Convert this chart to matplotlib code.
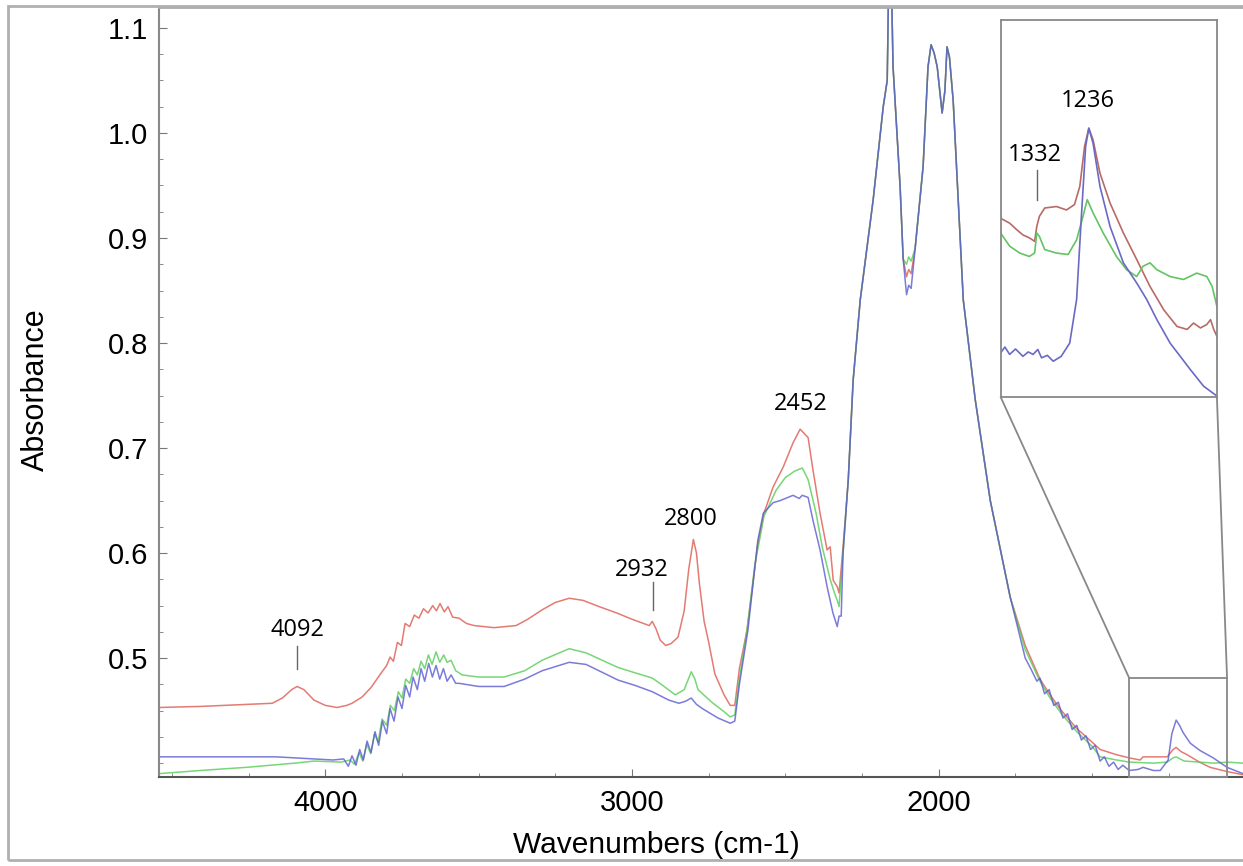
import matplotlib.pyplot as plt
from matplotlib.patches import Rectangle, ConnectionPatch
from matplotlib.ticker import MultipleLocator

plt.rcParams['font.family'] = ['Liberation Sans', 'DejaVu Sans']

RED = '#dc5a50'
GREEN = '#55cc55'
BLUE = '#5a5ad0'

# ---- shared diamond band region (all three spectra overlap) ----
rise_wn = [2295, 2279, 2256, 2214, 2181, 2168, 2162, 2156, 2149, 2126, 2116]
rise_abs = [0.670, 0.765, 0.841, 0.936, 1.025, 1.050, 1.170, 1.170, 1.063, 0.949, 0.880]
dip_wn = [2105, 2098, 2090]
doublet_wn = [2077, 2051, 2035, 2025, 2015, 2005, 1989, 1980, 1973, 1965, 1953, 1920, 1881, 1832, 1767]
doublet_abs = [0.890, 0.968, 1.063, 1.084, 1.076, 1.063, 1.019, 1.040, 1.082, 1.072, 1.031, 0.841, 0.746, 0.650, 0.558]

# ---- red spectrum ----
red_left_wn = [4542, 4408, 4250, 4173, 4140, 4110, 4092, 4070, 4037, 4000, 3962, 3930, 3913, 3880, 3851,
               3820, 3800, 3789, 3778, 3765, 3752, 3740, 3725, 3710, 3695, 3680, 3665, 3650, 3638, 3626,
               3612, 3600, 3585, 3564, 3540, 3515, 3450, 3378, 3340, 3293, 3250, 3205, 3160, 3107, 3050,
               3000, 2944, 2934, 2922, 2908, 2890, 2872, 2850, 2830, 2815, 2800, 2790, 2780, 2765, 2750,
               2730, 2700, 2680, 2665, 2650, 2625, 2600, 2592, 2570, 2540, 2507, 2475, 2452, 2426, 2410,
               2387, 2364, 2354, 2344, 2331, 2325, 2312]
red_left_abs = [0.453, 0.454, 0.456, 0.457, 0.462, 0.470, 0.473, 0.470, 0.460, 0.455, 0.453, 0.455, 0.457, 0.463, 0.472,
                0.485, 0.493, 0.501, 0.497, 0.515, 0.512, 0.533, 0.530, 0.541, 0.538, 0.547, 0.543, 0.550, 0.545, 0.552,
                0.544, 0.549, 0.539, 0.538, 0.533, 0.531, 0.529, 0.531, 0.537, 0.546, 0.553, 0.557, 0.555, 0.549, 0.543,
                0.537, 0.531, 0.535, 0.528, 0.517, 0.512, 0.514, 0.520, 0.545, 0.585, 0.613, 0.600, 0.570, 0.535, 0.515,
                0.485, 0.465, 0.455, 0.455, 0.490, 0.527, 0.585, 0.605, 0.638, 0.663, 0.682, 0.705, 0.718, 0.710, 0.679,
                0.638, 0.603, 0.606, 0.574, 0.568, 0.562, 0.606]
red_dip_abs = [0.863, 0.870, 0.866]
red_tail_wn = [1718, 1670, 1637, 1600, 1550, 1500, 1474, 1420, 1379, 1343, 1334, 1300, 1255, 1236, 1226,
               1210, 1190, 1150, 1115, 1060, 1008]
red_tail_abs = [0.512, 0.480, 0.465, 0.450, 0.433, 0.420, 0.413, 0.408, 0.405, 0.403, 0.406, 0.406, 0.406, 0.413, 0.415,
                0.411, 0.408, 0.401, 0.396, 0.392, 0.389]

# ---- green spectrum ----
green_left_wn = [4542, 4408, 4258, 4100, 4037, 3949, 3920, 3905, 3890, 3878, 3865, 3852, 3840, 3828, 3815,
                 3800, 3788, 3775, 3762, 3750, 3738, 3725, 3712, 3700, 3688, 3676, 3664, 3652, 3639, 3627,
                 3614, 3603, 3590, 3575, 3554, 3500, 3417, 3350, 3293, 3205, 3150, 3045, 2990, 2934, 2900,
                 2859, 2830, 2807, 2795, 2785, 2740, 2700, 2680, 2665, 2650, 2625, 2600, 2570, 2530, 2500,
                 2470, 2445, 2426, 2400, 2380, 2354, 2340, 2331, 2325, 2312]
green_left_abs = [0.390, 0.393, 0.396, 0.400, 0.402, 0.401, 0.403, 0.399, 0.410, 0.402, 0.418, 0.409, 0.428, 0.420, 0.442,
                  0.436, 0.455, 0.450, 0.468, 0.462, 0.480, 0.476, 0.490, 0.484, 0.497, 0.490, 0.503, 0.494, 0.506, 0.496,
                  0.503, 0.496, 0.498, 0.488, 0.484, 0.482, 0.482, 0.488, 0.498, 0.509, 0.505, 0.491, 0.486, 0.481, 0.474,
                  0.465, 0.470, 0.487, 0.480, 0.470, 0.458, 0.449, 0.444, 0.446, 0.480, 0.527, 0.588, 0.635, 0.660, 0.672,
                  0.678, 0.681, 0.670, 0.638, 0.606, 0.575, 0.562, 0.555, 0.549, 0.600]
green_dip_abs = [0.875, 0.882, 0.878]
green_tail_wn = [1718, 1670, 1637, 1600, 1550, 1500, 1474, 1420, 1379, 1300, 1255, 1236, 1226, 1200, 1150,
                 1100, 1060, 1008]
green_tail_abs = [0.508, 0.478, 0.462, 0.447, 0.430, 0.416, 0.406, 0.403, 0.401, 0.400, 0.401, 0.405, 0.406, 0.402, 0.401,
                  0.400, 0.401, 0.400]

# ---- blue spectrum ----
blue_left_wn = [4542, 4408, 4160, 3975, 3940, 3925, 3913, 3900, 3888, 3876, 3864, 3851, 3838, 3826, 3814,
                3800, 3789, 3776, 3763, 3750, 3738, 3725, 3714, 3700, 3688, 3676, 3663, 3651, 3639, 3627,
                3615, 3603, 3590, 3575, 3564, 3500, 3417, 3350, 3293, 3205, 3150, 3045, 2990, 2934, 2880,
                2847, 2825, 2807, 2790, 2771, 2720, 2680, 2665, 2650, 2622, 2600, 2590, 2572, 2540, 2517,
                2475, 2455, 2445, 2426, 2410, 2387, 2364, 2345, 2331, 2325, 2318, 2312]
blue_left_abs = [0.406, 0.406, 0.406, 0.403, 0.404, 0.397, 0.407, 0.398, 0.413, 0.403, 0.421, 0.410, 0.430, 0.417, 0.440,
                 0.428, 0.452, 0.440, 0.463, 0.452, 0.474, 0.463, 0.482, 0.470, 0.490, 0.478, 0.495, 0.482, 0.493, 0.480,
                 0.490, 0.478, 0.484, 0.476, 0.476, 0.473, 0.473, 0.480, 0.488, 0.496, 0.494, 0.479, 0.474, 0.468, 0.460,
                 0.457, 0.459, 0.462, 0.456, 0.452, 0.443, 0.438, 0.440, 0.475, 0.527, 0.585, 0.612, 0.638, 0.648, 0.650,
                 0.655, 0.652, 0.655, 0.653, 0.631, 0.603, 0.568, 0.543, 0.530, 0.540, 0.540, 0.600]
blue_dip_abs = [0.846, 0.855, 0.852]
blue_tail_wn = [1718, 1700, 1680, 1670, 1655, 1640, 1625, 1610, 1595, 1580, 1565, 1550, 1535, 1520, 1505,
                1490, 1474, 1460, 1445, 1430, 1415, 1400, 1379, 1350, 1334, 1300, 1278, 1252, 1240, 1226,
                1215, 1203, 1180, 1148, 1105, 1060, 1008]
blue_tail_abs = [0.500, 0.490, 0.478, 0.481, 0.466, 0.470, 0.455, 0.458, 0.443, 0.447, 0.432, 0.436, 0.422, 0.426, 0.413,
                 0.417, 0.402, 0.406, 0.397, 0.401, 0.394, 0.398, 0.393, 0.394, 0.396, 0.393, 0.393, 0.403, 0.428, 0.441,
                 0.436, 0.429, 0.419, 0.412, 0.405, 0.396, 0.390]

# ---- inset (enlarged 1400-1000 cm-1 region) ----
in_red_wn = [1400, 1383, 1370, 1358, 1346, 1336, 1332, 1327, 1317, 1295, 1276, 1261, 1251, 1242, 1234,
             1226, 1213, 1194, 1169, 1144, 1119, 1093, 1068, 1049, 1037, 1024, 1012, 1005, 999, 993]
in_red_abs = [0.4225, 0.4215, 0.4202, 0.4191, 0.4185, 0.4178, 0.4208, 0.4229, 0.4246, 0.4249, 0.4242, 0.4253, 0.4290, 0.4372, 0.4409,
              0.4385, 0.4317, 0.4256, 0.4195, 0.4141, 0.4086, 0.4038, 0.4004, 0.3998, 0.4011, 0.4001, 0.4008, 0.4018, 0.3998, 0.3984]
in_green_wn = [1400, 1383, 1364, 1346, 1336, 1332, 1327, 1317, 1295, 1273, 1257, 1245, 1237, 1226, 1207,
               1182, 1163, 1144, 1132, 1119, 1106, 1081, 1056, 1031, 1012, 1002, 993]
in_green_abs = [0.4195, 0.4168, 0.4154, 0.4147, 0.4154, 0.4195, 0.4188, 0.4161, 0.4154, 0.4151, 0.4181, 0.4229, 0.4263, 0.4236, 0.4195,
                0.4147, 0.4120, 0.4106, 0.4127, 0.4134, 0.4120, 0.4106, 0.4100, 0.4113, 0.4106, 0.4086, 0.4045]
in_blue_wn = [1400, 1392, 1383, 1372, 1358, 1348, 1339, 1330, 1323, 1312, 1301, 1286, 1270, 1257, 1248,
              1240, 1234, 1226, 1213, 1194, 1169, 1144, 1125, 1106, 1081, 1043, 1018, 993]
in_blue_abs = [0.3950, 0.3962, 0.3947, 0.3958, 0.3943, 0.3952, 0.3947, 0.3957, 0.3940, 0.3945, 0.3933, 0.3943, 0.3970, 0.4059, 0.4229,
               0.4372, 0.4409, 0.4378, 0.4290, 0.4208, 0.4134, 0.4093, 0.4059, 0.4018, 0.3970, 0.3916, 0.3882, 0.3862]

# peak labels: (text, x, y) in data units
main_labels = [('4092', 4092, 0.527), ('2932', 2967, 0.584), ('2800', 2810, 0.632), ('2452', 2449, 0.742)]
main_marks = [(4092, 0.490, 0.512), (2932, 0.546, 0.572)]
inset_labels = [('1332', 1335, 0.4355), ('1236', 1236, 0.4465)]
inset_marks = [(1332, 0.4263, 0.4324)]

XLIM = (4542, 1008)
YLIM = (0.387, 1.12)
ZOOM_BOX = (1379, 1060, 0.481)


def build(left_wn, left_abs, dip_abs, tail_wn, tail_abs):
    wn = left_wn + rise_wn + dip_wn + doublet_wn + tail_wn
    ab = left_abs + rise_abs + dip_abs + doublet_abs + tail_abs
    return wn, ab


def main():
    fig = plt.figure(figsize=(12.43, 8.66), dpi=100)
    ax = fig.add_axes([0.128, 0.103, 0.872, 0.889])

    series = [
        (build(red_left_wn, red_left_abs, red_dip_abs, red_tail_wn, red_tail_abs), RED),
        (build(green_left_wn, green_left_abs, green_dip_abs, green_tail_wn, green_tail_abs), GREEN),
        (build(blue_left_wn, blue_left_abs, blue_dip_abs, blue_tail_wn, blue_tail_abs), BLUE),
    ]
    for (wn, ab), col in series:
        ax.plot(wn, ab, color=col, lw=1.1, alpha=0.8)

    ax.set_xlim(*XLIM)
    ax.set_ylim(*YLIM)
    ax.set_xticks([4000, 3000, 2000])
    ax.xaxis.set_minor_locator(MultipleLocator(250))
    ax.set_yticks([0.5, 0.6, 0.7, 0.8, 0.9, 1.0, 1.1])
    ax.set_yticklabels([f'{v:.1f}' for v in ax.get_yticks()])
    ax.yaxis.set_minor_locator(MultipleLocator(0.025))
    ax.tick_params(which='both', direction='in', colors='#777777', labelcolor='black', labelsize=21)
    ax.tick_params(which='major', length=6)
    ax.tick_params(which='minor', length=3)
    ax.tick_params(axis='x', pad=9)
    ax.tick_params(axis='y', pad=8)

    ax.spines['right'].set_visible(False)
    ax.spines['top'].set_color('#aaaaaa')
    ax.spines['top'].set_linewidth(2)
    ax.spines['left'].set_color('#888888')
    ax.spines['left'].set_linewidth(1.5)
    ax.spines['bottom'].set_color('#555555')
    ax.spines['bottom'].set_linewidth(1.5)

    ax.set_xlabel('Wavenumbers (cm-1)', fontsize=21.5)
    ax.xaxis.set_label_coords(0.459, -0.07)
    ax.set_ylabel('Absorbance', fontsize=22)
    ax.yaxis.set_label_coords(-0.1, 0.503)

    for txt, x, y in main_labels:
        ax.text(x, y, txt, ha='center', va='center', fontsize=17, family=['Open Sans', 'DejaVu Sans'])
    for x, y0, y1 in main_marks:
        ax.plot([x, x], [y0, y1], color='#666666', lw=1.0)

    # zoom rectangle on the main plot
    x0, x1, ytop = ZOOM_BOX
    ax.add_patch(Rectangle((x0, YLIM[0]), x1 - x0, ytop - YLIM[0], fill=False,
                           ec='#888888', lw=1.3, zorder=5, clip_on=False))

    # inset
    axin = fig.add_axes([0.805, 0.5416, 0.174, 0.4353])
    axin.plot(in_red_wn, in_red_abs, color='#b86a66', lw=1.2)
    axin.plot(in_green_wn, in_green_abs, color='#62c462', lw=1.2)
    axin.plot(in_blue_wn, in_blue_abs, color='#6a6ac4', lw=1.2)
    axin.set_xlim(1400, 993)
    axin.set_ylim(0.386, 0.463)
    axin.set_xticks([])
    axin.set_yticks([])
    for s in axin.spines.values():
        s.set_color('#888888')
        s.set_linewidth(1.3)
    for txt, x, y in inset_labels:
        axin.text(x, y, txt, ha='center', va='center', fontsize=17, family=['Open Sans', 'DejaVu Sans'])
    for x, y0, y1 in inset_marks:
        axin.plot([x, x], [y0, y1], color='#666666', lw=1.0)

    for xa, xb in [(x0, 0), (x1, 1)]:
        con = ConnectionPatch(xyA=(xa, ytop), coordsA=ax.transData,
                              xyB=(xb, 0), coordsB=axin.transAxes,
                              color='#888888', lw=1.3)
        fig.add_artist(con)

    # outer frame of the screenshot
    fig.add_artist(Rectangle((0.0064, 0.007), 1.2, 0.986, transform=fig.transFigure,
                             fill=False, ec='#b0b0b0', lw=2))

    fig.savefig('out.png', dpi=100)


if __name__ == '__main__':
    main()
